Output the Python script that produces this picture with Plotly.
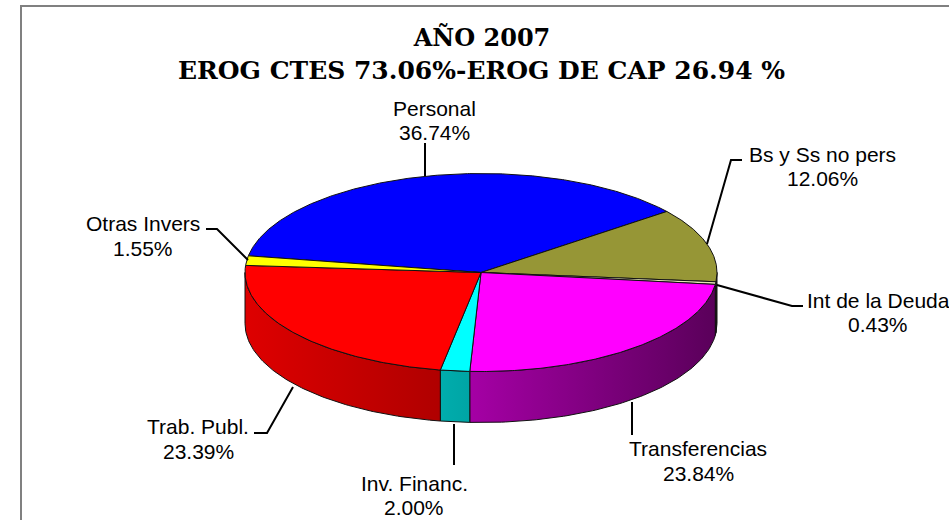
import numpy as np
import plotly.graph_objects as go

categories = ["Personal", "Bs y Ss no pers", "Int de la Deuda", "Transferencias",
              "Inv. Financ.", "Trab. Publ.", "Otras Invers"]
values = [36.74, 12.06, 0.43, 23.84, 2.00, 23.39, 1.55]
value_labels = ["36.74%", "12.06%", "0.43%", "23.84%", "2.00%", "23.39%", "1.55%"]
title_line_1 = "AÑO 2007"
title_line_2 = "EROG CTES 73.06%-EROG DE CAP 26.94 %"

# Drawing style and layout, in picture pixels
top_colors = ["#0000FF", "#969636", "#E6E6B4", "#FF00FF", "#00FFFF", "#FF0000", "#FFFF00"]
side_scales = [
    ["#0000B0", "#0000B0"],
    ["#3A3A1E", "#3A3A1E"],
    ["#3A3A1E", "#3A3A1E"],
    ["#A500A5", "#5A005A"],
    ["#00ADAD", "#00A5A5"],
    ["#DE0000", "#B00000"],
    ["#B0B000", "#B0B000"],
]
CX, CY, A, B, DEPTH = 481.0, 272.5, 236.0, 99.0, 51.0
START_DEG = -80.3

label_pos = [(434, 108, 132), (822, 154, 178), (878, 300, 324), (698, 448, 473),
             (414, 483, 507), (198, 426, 451), (143, 223, 248)]
leaders = [
    [(425, 143), (425, 176)],
    [(707, 244), (731, 160), (742, 160)],
    [(717, 285), (792, 306), (803, 306)],
    [(632, 402), (632, 435)],
    [(454, 424), (454, 465)],
    [(293, 387), (267, 433), (254, 433)],
    [(248, 260), (217, 229), (206, 229)],
]


def rim(deg, dy=0.0):
    t = np.radians(deg)
    return CX + A * np.sin(t), CY - B * np.cos(t) + dy


total = sum(values)
edges = START_DEG + np.concatenate([[0], np.cumsum(values)]) / total * 360.0

fig = go.Figure()

# Outer wall: only the part of each slice on the front half of the pie
for i, name in enumerate(categories):
    lo, hi = edges[i], edges[i + 1]
    lo2, hi2 = max(lo, 90.0), min(hi, 270.0)
    if hi2 <= lo2:
        continue
    arc = np.linspace(lo2, hi2, 90)
    x1, y1 = rim(arc)
    x2, y2 = rim(arc[::-1], DEPTH)
    xs = np.concatenate([x1, x2, x1[:1]])
    ys = np.concatenate([y1, y2, y1[:1]])
    c = side_scales[i]
    fig.add_trace(go.Scatter(
        x=xs, y=ys, mode="lines", fill="toself", hoverinfo="skip", showlegend=False,
        line=dict(color="#111111", width=1),
        fillgradient=dict(type="horizontal", colorscale=[[0, c[0]], [1, c[1]]],
                          start=float(xs.min()), stop=float(xs.max())),
    ))

# Top face
for i, name in enumerate(categories):
    arc = np.linspace(edges[i], edges[i + 1], max(3, int(values[i] * 8)))
    x, y = rim(arc)
    xs = np.concatenate([[CX], x, [CX]])
    ys = np.concatenate([[CY], y, [CY]])
    fig.add_trace(go.Scatter(
        x=xs, y=ys, mode="lines", fill="toself", fillcolor=top_colors[i], name=name,
        text=f"{name}: {value_labels[i]}", hoverinfo="text", showlegend=False,
        line=dict(color="#111111", width=1),
    ))

# Leader lines
for pts in leaders:
    fig.add_trace(go.Scatter(
        x=[p[0] for p in pts], y=[p[1] for p in pts], mode="lines", hoverinfo="skip",
        showlegend=False, line=dict(color="#000000", width=2),
    ))

# Slice labels: name and share, one annotation per line to hold the tight line spacing
label_font = dict(family="Liberation Sans", size=21, color="#000000")
for name, val, (lx, y1, y2) in zip(categories, value_labels, label_pos):
    for txt, ly in ((name, y1), (val, y2)):
        fig.add_annotation(x=lx, y=ly, xref="x", yref="y", text=txt, showarrow=False,
                           xanchor="center", yanchor="middle", font=label_font)

fig.add_annotation(x=481, y=70, xref="x", yref="y", text=f"<b>{title_line_2}</b>", showarrow=False,
                   xanchor="center", yanchor="middle",
                   font=dict(family="DejaVu Serif", size=25, color="#000000"))

fig.add_shape(type="rect", xref="x", yref="y", x0=21, y0=6, x1=1000, y1=600,
              line=dict(color="#808080", width=2), fillcolor="rgba(0,0,0,0)", layer="below")

fig.update_layout(
    width=949, height=520, margin=dict(l=0, r=0, t=0, b=0),
    paper_bgcolor="#FFFFFF", plot_bgcolor="#FFFFFF", showlegend=False,
    title=dict(text=f"<b>{title_line_1}</b>", x=482 / 949, xanchor="center", xref="paper",
               y=1 - 38 / 520, yanchor="middle", yref="paper",
               font=dict(family="DejaVu Serif", size=24, color="#000000")),
    xaxis=dict(range=[0, 949], visible=False, fixedrange=True),
    yaxis=dict(range=[520, 0], visible=False, fixedrange=True),
)

fig.write_html("out.html", config={"displayModeBar": False},
               post_script="document.body.style.margin='0';document.body.style.overflow='hidden';")
